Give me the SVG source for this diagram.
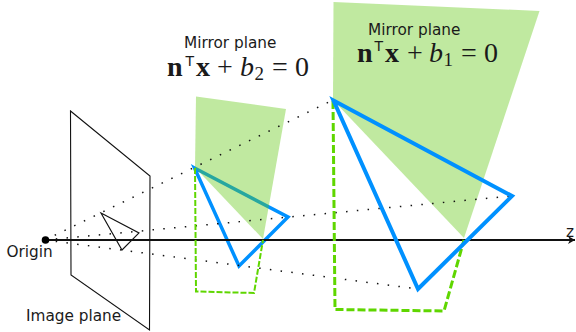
<svg xmlns="http://www.w3.org/2000/svg" width="576" height="332" viewBox="0 0 576 332">
<style>
.lab{font-family:"DejaVu Sans",sans-serif;font-size:15.300px;fill:#1a1a1a}
.m{font-family:"Liberation Serif",serif;font-size:28px;fill:#1a1a1a}
.b{font-weight:bold}
.i{font-style:italic}
.s{font-size:19px}
.t{font-family:"DejaVu Sans",sans-serif;font-size:14px}
.plane{fill:rgb(97,200,17);fill-opacity:.4;stroke:none}
.blue{fill:none;stroke:#0091ff;stroke-linejoin:miter}
.dash{fill:none;stroke:#5fd600}
.dot{fill:none;stroke:#111;stroke-width:1.500;stroke-dasharray:1.500 9.300}
.thin{fill:none;stroke:#111;stroke-width:1.100}
</style>
<defs><marker id="ah" markerUnits="userSpaceOnUse" markerWidth="9" markerHeight="10" refX="8" refY="5" orient="auto"><path d="M1 1L8 5L1 9L3 5Z" fill="#111"/></marker></defs>
<g id="image-plane"><polygon class="thin" points="70.500,111 150,176 149.500,330 71,275"/><polygon class="thin" points="101,213 139,233 122,250"/></g>
<g id="mirror-plane-2-triangle"><polygon class="blue" stroke-width="3.500" points="194.500,168 288,217 239,266"/></g>
<g id="mirror-plane-2"><polygon class="plane" points="196,96.500 286,109 263,239 195,167.500"/></g>
<g id="mirror-plane-1"><polygon class="plane" points="333.500,2 539.500,11 464,238 333,100"/></g>
<g id="connectors">
<path class="dot" d="M45 240L333 100"/><path class="dot" d="M45 240L512 196"/><path class="dot" d="M45 240L418 289"/>
<path d="M45 240H575" fill="none" stroke="#111" stroke-width="2" marker-end="url(#ah)"/>
<path class="dash" stroke-width="2" stroke-dasharray="6 2" d="M195 168L196 291.500L254 293L263 240"/>
<path class="dash" stroke-width="3" stroke-dasharray="8 3" d="M333 101L335 309.500L444 311L464 240"/>
</g>
<g id="mirror-plane-1-triangle"><polygon class="blue" stroke-width="4" points="333.500,100.500 512,196 418,289"/></g>
<g id="origin"><circle cx="45.500" cy="240" r="3.800" fill="#000"/><text class="lab" x="6.500" y="256.500">Origin</text></g>
<g id="labels">
<text class="lab" x="26" y="320.500">Image plane</text>
<text class="lab" x="184" y="47.500">Mirror plane</text>
<text class="lab" x="368" y="35">Mirror plane</text>
<text class="lab" x="566" y="237">z</text>
<text class="m"><tspan class="b" x="167" y="76">n</tspan><tspan class="t" x="185.500" y="66">T</tspan><tspan class="b" x="196" y="76">x</tspan><tspan x="217" y="76">+</tspan><tspan class="i" x="240" y="76">b</tspan><tspan class="s" x="254.500" y="80">2</tspan><tspan x="272" y="76">=</tspan><tspan x="295" y="76">0</tspan></text>
<text class="m"><tspan class="b" x="357" y="61.500">n</tspan><tspan class="t" x="374.500" y="51">T</tspan><tspan class="b" x="385" y="61.500">x</tspan><tspan x="407" y="61.500">+</tspan><tspan class="i" x="429" y="61.500">b</tspan><tspan class="s" x="443.500" y="65.500">1</tspan><tspan x="461" y="61.500">=</tspan><tspan x="484" y="61.500">0</tspan></text>
</g>
</svg>
